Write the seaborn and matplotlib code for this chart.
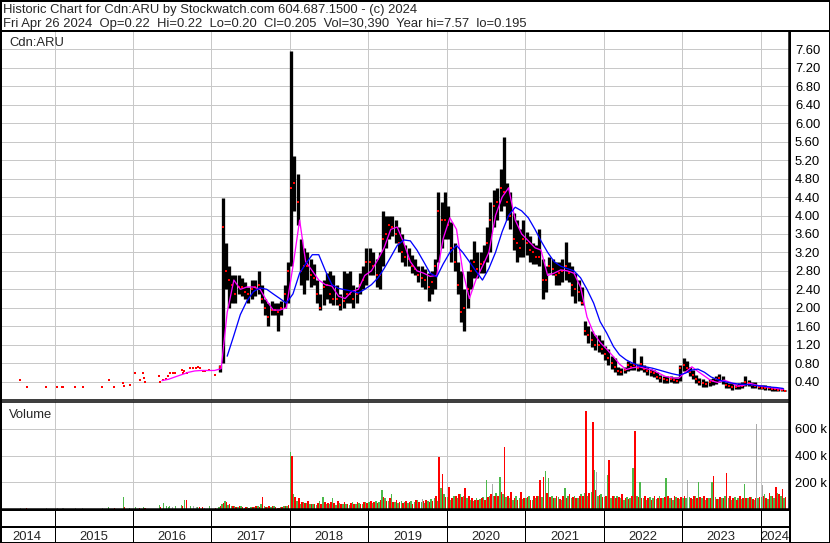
import numpy as np
import pandas as pd
import matplotlib
matplotlib.use("Agg")
import matplotlib.pyplot as plt
from matplotlib.lines import Line2D
from matplotlib.patches import Rectangle
import seaborn as sns

# Header text
title_line1 = "Historic Chart for Cdn:ARU by Stockwatch.com 604.687.1500 - (c) 2024"
title_line2 = ("Fri Apr 26 2024  Op=0.22  Hi=0.22  Lo=0.20  Cl=0.205  "
               "Vol=30,390  Year hi=7.57  lo=0.195")
symbol = "Cdn:ARU"

# Thin trading before 2017: single trades (close, volume in thousands)
early_dates = ["2014-07-26", "2014-08-25", "2014-11-24", "2015-01-14", "2015-02-06",
               "2015-02-11", "2015-04-08", "2015-05-12", "2015-08-11", "2015-09-09",
               "2015-10-05", "2015-11-16", "2015-11-20", "2015-12-16", "2016-01-12",
               "2016-02-02", "2016-02-18", "2016-02-22", "2016-02-26", "2016-05-03",
               "2016-05-06", "2016-05-22", "2016-06-05", "2016-06-14", "2016-06-20",
               "2016-07-05", "2016-07-15", "2016-08-15", "2016-08-19", "2016-08-28",
               "2016-09-08", "2016-09-24", "2016-10-08", "2016-10-22", "2016-10-29",
               "2016-11-06", "2016-11-20", "2016-12-01", "2016-12-22", "2017-01-18"]
early_close = [0.43, 0.29, 0.29, 0.29, 0.29, 0.29, 0.29, 0.29, 0.29, 0.43,
               0.29, 0.36, 0.31, 0.33, 0.59, 0.43, 0.59, 0.47, 0.40, 0.51,
               0.40, 0.43, 0.45, 0.51, 0.58, 0.58, 0.59, 0.65, 0.58, 0.62,
               0.59, 0.69, 0.69, 0.69, 0.72, 0.69, 0.62, 0.62, 0.65, 0.54]
early_vol = [10, 6, 5, 8, 7, 5, 6, 5, 9, 12,
             6, 90, 12, 8, 18, 10, 14, 8, 10, 30,
             12, 42, 20, 15, 25, 18, 22, 30, 20, 65,
             70, 25, 20, 15, 18, 12, 15, 10, 20, 8]

# Half-monthly bars (1st / 15th) from Feb 2017
half_start = "2017-02-01"
bar_high = [
    0.75, 4.37, 3.40, 2.90, 2.70, 2.70, 2.70, 2.65, 2.55, 2.45, 2.60, 2.60, 2.80, 2.50, 2.20, 2.10, 2.15, 2.10, 2.10, 2.15, 2.50, 3.00,
    7.57, 5.28, 4.90, 3.50, 3.30, 3.20, 3.05, 2.95, 2.60, 2.30, 2.60, 2.75, 2.80, 2.70, 2.50, 2.30, 2.80, 2.75, 2.80, 2.50, 2.45, 2.75, 2.90, 3.30,
    3.30, 3.20, 3.05, 3.20, 4.10, 4.00, 4.00, 4.00, 3.90, 3.75, 3.60, 3.35, 3.30, 3.15, 3.05, 2.90, 2.90, 2.85, 2.75, 2.80, 3.05, 4.52, 4.30, 4.50,
    4.20, 3.85, 3.40, 3.00, 2.80, 2.40, 2.80, 3.05, 3.45, 3.20, 3.20, 3.35, 3.75, 4.30, 4.55, 4.60, 5.00, 5.70, 4.70, 4.50, 4.05, 3.90, 3.70, 3.90,
    3.65, 3.55, 3.40, 3.35, 3.70, 3.05, 2.90, 3.10, 3.05, 3.00, 3.00, 3.05, 3.43, 3.00, 2.90, 2.75, 2.60, 2.45, 1.72, 1.60, 1.50, 1.40, 1.40, 1.30,
    1.16, 1.10, 0.95, 0.90, 0.72, 0.70, 0.72, 0.85, 0.80, 1.12, 0.78, 0.95, 0.75, 0.72, 0.68, 0.65, 0.60, 0.55, 0.52, 0.52, 0.52, 0.50, 0.50, 0.75,
    0.90, 0.85, 0.72, 0.65, 0.55, 0.48, 0.45, 0.42, 0.45, 0.48, 0.52, 0.56, 0.52, 0.40, 0.36, 0.36, 0.35, 0.36, 0.38, 0.51, 0.43, 0.40, 0.38, 0.33,
    0.33, 0.32, 0.30, 0.29, 0.28, 0.27, 0.26, 0.22]
bar_low = [
    0.60, 0.80, 2.40, 2.00, 2.10, 2.10, 2.30, 2.25, 2.20, 2.10, 2.20, 2.25, 2.30, 2.10, 1.85, 1.60, 1.85, 1.85, 1.50, 1.85, 2.00, 2.10,
    2.90, 4.10, 3.80, 2.50, 2.30, 2.60, 2.45, 2.50, 2.10, 1.95, 2.05, 2.20, 2.10, 2.05, 2.05, 1.95, 2.00, 2.10, 2.10, 2.00, 2.10, 2.30, 2.40, 2.50,
    2.70, 2.70, 2.45, 2.40, 2.90, 3.30, 3.50, 3.55, 3.40, 3.20, 3.00, 2.90, 2.90, 2.75, 2.70, 2.55, 2.45, 2.40, 2.15, 2.30, 2.40, 3.00, 3.30, 3.50,
    3.50, 3.00, 2.80, 2.30, 1.70, 1.50, 2.00, 2.40, 2.65, 2.65, 2.75, 2.75, 3.00, 3.20, 3.75, 3.90, 4.10, 4.20, 3.90, 3.70, 3.25, 3.00, 3.10, 3.10,
    3.15, 3.00, 2.95, 2.95, 2.90, 2.20, 2.35, 2.75, 2.70, 2.50, 2.50, 2.55, 2.60, 2.55, 2.25, 2.10, 2.15, 2.05, 1.40, 1.23, 1.15, 1.08, 1.05, 1.00,
    0.87, 0.75, 0.68, 0.60, 0.55, 0.55, 0.58, 0.62, 0.65, 0.65, 0.62, 0.65, 0.60, 0.55, 0.52, 0.50, 0.45, 0.40, 0.37, 0.37, 0.40, 0.37, 0.36, 0.42,
    0.62, 0.60, 0.52, 0.45, 0.37, 0.33, 0.29, 0.29, 0.30, 0.33, 0.35, 0.38, 0.35, 0.27, 0.27, 0.22, 0.24, 0.24, 0.26, 0.30, 0.30, 0.26, 0.26, 0.23,
    0.23, 0.22, 0.22, 0.20, 0.20, 0.20, 0.195, 0.20]
bar_close = [
    0.72, 3.75, 2.80, 2.60, 2.50, 2.30, 2.45, 2.45, 2.35, 2.30, 2.40, 2.45, 2.50, 2.20, 2.00, 1.80, 1.95, 1.95, 1.90, 2.00, 2.30, 2.80,
    4.60, 4.70, 4.30, 2.80, 2.90, 2.90, 2.70, 2.65, 2.30, 2.00, 2.45, 2.50, 2.30, 2.20, 2.20, 2.05, 2.15, 2.30, 2.30, 2.20, 2.30, 2.50, 2.60, 3.00,
    3.00, 2.90, 2.70, 2.70, 3.50, 3.60, 3.80, 3.75, 3.60, 3.40, 3.20, 3.10, 3.05, 2.90, 2.85, 2.70, 2.65, 2.60, 2.45, 2.55, 2.90, 4.10, 3.90, 3.90,
    3.80, 3.30, 3.00, 2.50, 1.90, 2.00, 2.40, 2.80, 3.00, 2.85, 2.95, 3.00, 3.40, 3.90, 4.20, 4.30, 4.60, 4.50, 4.30, 4.00, 3.50, 3.40, 3.30, 3.50,
    3.40, 3.25, 3.20, 3.10, 3.10, 2.60, 2.60, 2.90, 2.85, 2.70, 2.75, 2.80, 2.90, 2.75, 2.50, 2.40, 2.35, 2.10, 1.50, 1.40, 1.30, 1.20, 1.20, 1.10,
    1.00, 0.90, 0.80, 0.72, 0.62, 0.60, 0.65, 0.75, 0.72, 0.75, 0.70, 0.78, 0.68, 0.62, 0.60, 0.58, 0.50, 0.48, 0.45, 0.44, 0.45, 0.44, 0.42, 0.70,
    0.75, 0.70, 0.60, 0.55, 0.45, 0.40, 0.36, 0.34, 0.38, 0.42, 0.45, 0.48, 0.42, 0.33, 0.30, 0.28, 0.28, 0.30, 0.30, 0.40, 0.36, 0.32, 0.30, 0.28,
    0.27, 0.26, 0.25, 0.24, 0.23, 0.22, 0.21, 0.205]

# Volume per half month, thousands: up-day and down-day trading
vol_up = [
    15, 35, 60, 30, 20, 25, 15, 20, 10, 12, 18, 15, 25, 35, 20, 15, 12, 20, 10, 15, 25, 20,
    425, 110, 60, 40, 50, 45, 35, 40, 30, 60, 90, 35, 40, 80, 30, 45, 35, 40, 30, 50, 35, 45, 40, 55,
    50, 45, 60, 55, 140, 80, 60, 115, 55, 45, 60, 50, 45, 60, 50, 70, 55, 45, 60, 75, 80, 60, 155, 110,
    90, 70, 100, 80, 110, 95, 85, 70, 60, 80, 75, 90, 215, 100, 95, 120, 240, 110, 90, 85, 70, 95, 80, 75,
    80, 95, 70, 85, 100, 90, 285, 230, 95, 80, 90, 70, 160, 100, 85, 95, 80, 110, 120, 100, 130, 290, 95, 110,
    90, 255, 80, 95, 100, 85, 70, 90, 80, 310, 95, 205, 85, 70, 90, 80, 75, 95, 85, 230, 80, 70, 90, 75,
    85, 80, 90, 75, 95, 205, 80, 70, 85, 205, 90, 75, 80, 95, 85, 70, 90, 80, 75, 190, 85, 90, 70, 80,
    90, 110, 75, 100, 85, 120, 95, 80]
vol_down = [
    20, 45, 55, 35, 25, 15, 20, 15, 15, 10, 12, 20, 18, 90, 15, 20, 25, 15, 10, 15, 20, 30,
    395, 90, 80, 55, 45, 60, 40, 35, 45, 40, 50, 45, 55, 45, 60, 40, 50, 35, 45, 40, 55, 40, 50, 45,
    60, 55, 45, 70, 90, 60, 80, 55, 65, 50, 45, 60, 55, 40, 65, 50, 60, 70, 55, 60, 95, 390, 265, 90,
    165, 80, 95, 110, 90, 160, 100, 85, 70, 65, 80, 70, 90, 110, 100, 95, 130, 465, 100, 130, 85, 70, 125, 80,
    90, 70, 100, 95, 220, 240, 120, 90, 80, 100, 75, 95, 85, 110, 90, 80, 100, 95, 730, 120, 650, 140, 105, 90,
    100, 370, 95, 80, 90, 110, 85, 75, 100, 585, 90, 80, 95, 85, 70, 100, 85, 80, 90, 100, 85, 95, 80, 90,
    95, 90, 80, 100, 85, 90, 95, 85, 80, 245, 75, 90, 85, 270, 95, 80, 70, 95, 85, 80, 90, 75, 85, 90,
    100, 85, 120, 95, 165, 110, 150, 90]

# Unchanged-close days with notable volume (thousands)
flat_dates = ["2019-09-10", "2020-08-02", "2021-11-27", "2023-01-24", "2023-12-14", "2024-01-09"]
flat_vol = [75, 190, 280, 215, 635, 180]

# Moving averages, monthly readings
ma_short_start = "2016-05-01"
ma_short = [0.42, 0.45, 0.50, 0.55, 0.60, 0.63, 0.64, 0.64,
            0.64, 0.68, 1.90, 2.60, 2.40, 2.45, 2.45, 2.40, 2.15, 1.95, 1.95, 2.00,
            2.90, 3.90, 3.00, 2.80, 2.60, 2.50, 2.47, 2.25, 2.20, 2.35, 2.40, 2.70,
            2.80, 3.05, 3.30, 3.70, 3.75, 3.40, 3.00, 2.80, 2.75, 2.68, 2.70, 3.50,
            3.95, 3.70, 2.80, 2.20, 2.60, 2.90, 3.20, 4.00, 4.40, 4.60, 3.90, 3.60,
            3.45, 3.30, 3.25, 2.70, 2.75, 2.82, 2.80, 2.75, 2.45, 1.80, 1.45, 1.25,
            1.10, 0.94, 0.78, 0.66, 0.70, 0.72, 0.68, 0.65, 0.58, 0.51, 0.48, 0.47,
            0.60, 0.72, 0.62, 0.52, 0.42, 0.38, 0.43, 0.38, 0.30, 0.32, 0.36, 0.32,
            0.29, 0.27, 0.25, 0.23]
ma_long_start = "2017-03-01"
ma_long = [0.95, 1.40, 1.85, 2.15, 2.35, 2.43, 2.40, 2.30, 2.20, 2.10,
           2.30, 2.75, 2.95, 3.15, 3.15, 2.80, 2.50, 2.42, 2.39, 2.36, 2.32, 2.40,
           2.50, 2.65, 2.85, 3.10, 3.35, 3.47, 3.45, 3.25, 3.00, 2.75, 2.67, 2.95,
           3.20, 3.35, 3.20, 3.00, 2.80, 2.60, 2.85, 3.20, 3.65, 4.00, 4.18, 4.10,
           3.95, 3.70, 3.45, 3.20, 3.00, 2.90, 2.85, 2.80, 2.65, 2.40, 2.10, 1.70,
           1.45, 1.16, 0.98, 0.87, 0.80, 0.74, 0.72, 0.69, 0.65, 0.61, 0.57, 0.54,
           0.58, 0.65, 0.67, 0.60, 0.50, 0.44, 0.40, 0.37, 0.35, 0.34, 0.33, 0.31,
           0.30, 0.28, 0.27, 0.25]

years = [2014, 2015, 2016, 2017, 2018, 2019, 2020, 2021, 2022, 2023, 2024]
price_ticks = [0.40, 0.80, 1.20, 1.60, 2.00, 2.40, 2.80, 3.20, 3.60, 4.00,
               4.40, 4.80, 5.20, 5.60, 6.00, 6.40, 6.80, 7.20, 7.60]
vol_ticks = [200, 400, 600]

# ---- drawing ----
W, H = 830, 543
PX = 72 / 100  # points per pixel
GREEN, RED, GRAY = "#4cb84a", "#ff0000", "#aaaaaa"


def frac_box(x0, y0, x1, y1):
    return [x0 / W, 1 - y1 / H, (x1 - x0) / W, (y1 - y0) / H]


def to_year(dates):
    d = pd.DatetimeIndex(dates)
    days = np.where(d.is_leap_year, 366.0, 365.0)
    return np.asarray(d.year + (d.dayofyear - 0.5) / days, dtype=float)


sns.set_style("white")
plt.rcParams["font.family"] = ["Liberation Sans", "DejaVu Sans"]
plt.rcParams["font.size"] = 9.4

fig = plt.figure(figsize=(W / 100, H / 100), dpi=100)
fig.patch.set_facecolor("white")

x_left = 2015 - 54.5 / 78.45
x_right = 2015 + (789 - 54.5) / 78.45

ax_p = fig.add_axes(frac_box(0, 31, 789, 400))
ax_v = fig.add_axes(frac_box(0, 402, 789, 509))
ax_y = fig.add_axes(frac_box(0, 509, 789, 543))

for ax in (ax_p, ax_v):
    ax.set_xlim(x_left, x_right)
    ax.set_xticks(years[1:])
    ax.set_xticklabels([])
    ax.grid(True, color="#c8c8c8", linewidth=1 * PX)
    ax.set_axisbelow(True)
    ax.yaxis.tick_right()
    ax.tick_params(axis="both", length=0, pad=4.3, labelsize=9.4, labelcolor="black")
    for s in ax.spines.values():
        s.set_color("black")
        s.set_linewidth(1.5 * PX)

# price panel
ax_p.set_ylim(0, 8.0)
ax_p.set_yticks(price_ticks)
ax_p.set_yticklabels([f"{v:.2f}" for v in price_ticks])

hm = pd.date_range(half_start, periods=len(bar_high), freq="SMS")
hx = to_year(hm) + 7 / 365
ax_p.vlines(hx, bar_low, bar_high, color="black", linewidth=3.3 * PX, zorder=2)
sns.scatterplot(x=hx, y=bar_close, ax=ax_p, marker="s", s=4, color=RED,
                linewidth=0, zorder=3)

ex = to_year(early_dates)
sns.scatterplot(x=ex, y=early_close, ax=ax_p, marker="s", s=4, color=RED,
                linewidth=0, zorder=3)

mx_s = to_year(pd.date_range(ma_short_start, periods=len(ma_short), freq="MS")
               + pd.Timedelta(days=14))
mx_l = to_year(pd.date_range(ma_long_start, periods=len(ma_long), freq="MS")
               + pd.Timedelta(days=14))
sns.lineplot(x=mx_s, y=ma_short, ax=ax_p, color="#ff00ff", linewidth=1.3 * PX, zorder=4)
sns.lineplot(x=mx_l, y=ma_long, ax=ax_p, color="#0000ff", linewidth=1.3 * PX, zorder=5)
ax_p.set_xlabel("")
ax_p.set_ylabel("")

# volume panel
ax_v.set_ylim(0, 800)
ax_v.set_yticks(vol_ticks)
ax_v.set_yticklabels([f"{v} k" for v in vol_ticks])
slot = 1 / 24
ax_v.bar(hx - slot / 4, vol_up, width=slot * 0.5, color=GREEN, linewidth=0)
ax_v.bar(hx + slot / 4, vol_down, width=slot * 0.5, color=RED, linewidth=0)
early_dir = np.sign(np.diff(early_close, prepend=early_close[0]))
early_col = [GREEN if d > 0 else RED if d < 0 else GRAY for d in early_dir]
ax_v.bar(ex, early_vol, width=0.012, color=early_col, linewidth=0)
ax_v.bar(to_year(flat_dates), flat_vol, width=0.012, color=GRAY, linewidth=0)
ax_v.set_xlabel("")
ax_v.set_ylabel("")

# year strip
ax_y.set_xlim(x_left, x_right)
ax_y.set_ylim(34, 0)
ax_y.axis("off")
ax_y.vlines(years[1:], 0, 34, color="black", linewidth=1 * PX)
ax_y.hlines(18, x_left, x_right, color="black", linewidth=2 * PX)
for yr in years:
    centre = (max(yr, x_left) + min(yr + 1, x_right)) / 2
    ax_y.text(centre, 30.5, str(yr), ha="center", va="baseline", fontsize=9.4)

# frame lines
def hline(y, x0=0, x1=W, lw=2):
    fig.add_artist(Line2D([x0 / W, x1 / W], [1 - y / H] * 2, color="black",
                          linewidth=lw * PX))


def vline(x, y0, y1, lw=2):
    fig.add_artist(Line2D([x / W] * 2, [1 - y0 / H, 1 - y1 / H], color="black",
                          linewidth=lw * PX))


fig.add_artist(Rectangle((0, 0), 1, 1, transform=fig.transFigure, fill=False,
                         edgecolor="black", linewidth=3 * PX))
hline(30.5)
hline(509.5, 0, 789)
vline(789.5, 31, H)

fig.text(3 / W, 1 - 12.7 / H, title_line1, ha="left", va="baseline", fontsize=9.4)
fig.text(3 / W, 1 - 27.3 / H, title_line2, ha="left", va="baseline", fontsize=9.4)
fig.text(9 / W, 1 - 45.5 / H, symbol, ha="left", va="baseline", fontsize=9.4)
fig.text(9 / W, 1 - 418 / H, "Volume", ha="left", va="baseline", fontsize=9.4)

fig.savefig("out.png", dpi=100)
